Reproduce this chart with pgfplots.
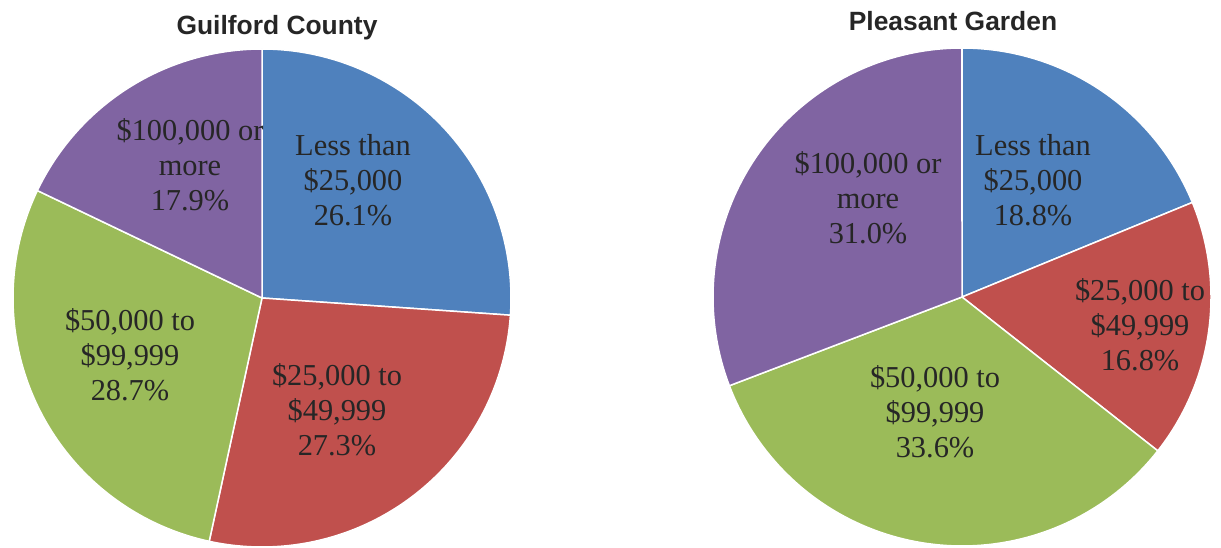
\documentclass[border=0pt]{standalone}
\usepackage{pgfplots}
\pgfplotsset{compat=1.18}
\usepackage{fontspec}
\setmainfont{Liberation Serif}
\newfontfamily\titlefont{Liberation Sans}
\definecolor{cblue}{HTML}{4F81BD}
\definecolor{cred}{HTML}{C0504D}
\definecolor{cgreen}{HTML}{9BBB59}
\definecolor{cpurple}{HTML}{8064A2}
\definecolor{ctext}{HTML}{262626}
% slice: center x, center y, start percent, end percent, colour
\newcommand{\slice}[5]{%
  \pgfmathsetmacro{\sa}{#3*3.6}%
  \pgfmathsetmacro{\sb}{#4*3.6}%
  \addplot[fill=#5, draw=white, line width=1.5bp, line join=round,
    domain=\sa:\sb, samples=90, variable=\t]
    ({#1+249*sin(\t)},{#2+249*cos(\t)}) -- (axis cs:#1,#2) -- cycle;%
}
\begin{document}
\begin{tikzpicture}
\begin{axis}[
  scale only axis, width=1221bp, height=548bp,
  xmin=0, xmax=1221, ymin=0, ymax=548,
  hide axis, clip=false,
  every node/.append style={text=ctext},
]
\coordinate (bl) at (axis cs:0,0);
\coordinate (tr) at (axis cs:1221,548);
% Guilford County: 26.1, 27.3, 28.7, 17.9 (cumulative percent)
\slice{262}{250}{0}{26.1}{cblue}
\slice{262}{250}{26.1}{53.4}{cred}
\slice{262}{250}{53.4}{82.1}{cgreen}
\slice{262}{250}{82.1}{100}{cpurple}
% Pleasant Garden: 18.8, 16.8, 33.6, 31.0
\slice{962}{251}{0}{18.8}{cblue}
\slice{962}{251}{18.8}{35.6}{cred}
\slice{962}{251}{35.6}{69.2}{cgreen}
\slice{962}{251}{69.2}{100}{cpurple}
\begin{scope}[every node/.style={align=center, text=ctext, font=\fontsize{30.5}{35}\selectfont, inner sep=0pt}]
\node at (axis cs:353,368) {Less than\\\$25,000\\26.1\%};
\node at (axis cs:337,138) {\$25,000 to\\\$49,999\\27.3\%};
\node at (axis cs:130,193) {\$50,000 to\\\$99,999\\28.7\%};
\node at (axis cs:190,383) {\$100,000 or\\more\\17.9\%};
\node at (axis cs:1033,368) {Less than\\\$25,000\\18.8\%};
\node at (axis cs:1140,223) {\$25,000 to\\\$49,999\\16.8\%};
\node at (axis cs:935,136) {\$50,000 to\\\$99,999\\33.6\%};
\node at (axis cs:868,350) {\$100,000 or\\more\\31.0\%};
\end{scope}
\node[font=\titlefont\bfseries\fontsize{26.5}{30}\selectfont, text=ctext, inner sep=0pt] at (axis cs:277,520) {Guilford County};
\node[font=\titlefont\bfseries\fontsize{26.5}{30}\selectfont, text=ctext, inner sep=0pt] at (axis cs:953,527) {Pleasant Garden};
\end{axis}
\pgfresetboundingbox
\path (bl) rectangle (tr);
\end{tikzpicture}
\end{document}
